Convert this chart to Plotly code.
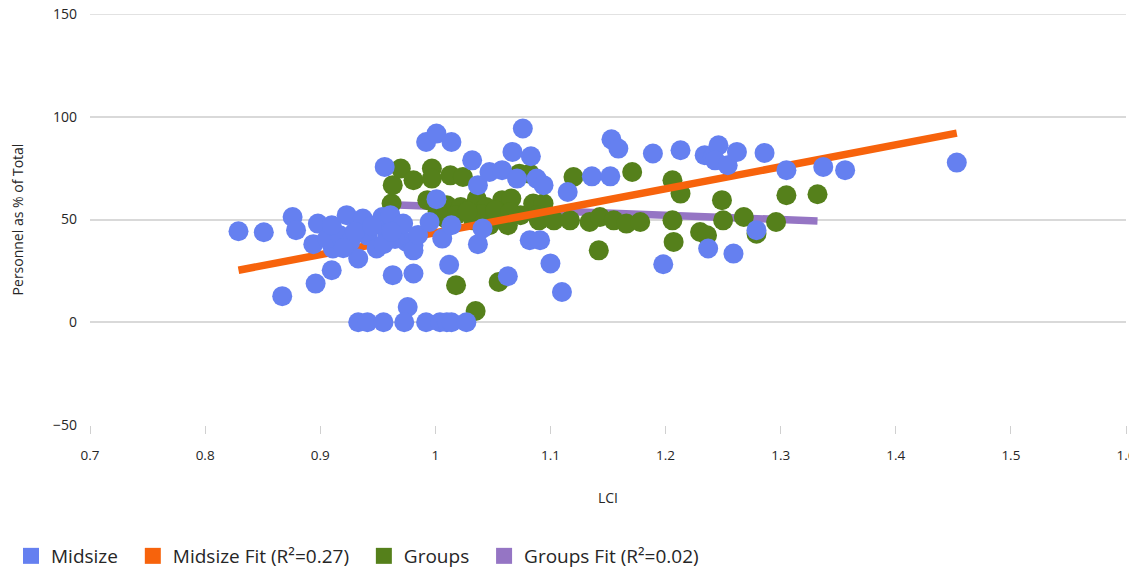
import plotly.graph_objects as go

# ---- Data ----
midsize_x = [0.829, 0.851, 0.867, 0.876, 0.879, 0.896, 0.894, 0.898, 0.910, 0.911,
             0.906, 0.917, 0.910, 0.923, 0.926, 0.933, 0.937, 0.941, 0.949, 0.954,
             0.958, 0.961, 0.969, 0.975, 0.981, 0.981, 0.930, 0.945, 0.965, 0.972,
             0.985, 0.920, 0.955, 0.962,
             0.956, 0.963, 0.981, 0.976,
             0.933, 0.941, 0.955, 0.973, 0.992, 1.004, 1.010, 1.014, 1.027,
             0.995, 1.001, 1.006, 1.012, 0.992, 1.001, 1.014, 1.014, 1.032,
             1.037, 1.037, 1.041, 1.047, 1.058, 1.063, 1.067, 1.071, 1.076, 1.083,
             1.088, 1.094, 1.082, 1.091, 1.100, 1.110, 1.115, 1.136, 1.152, 1.153,
             1.159, 1.189, 1.198, 1.213, 1.234, 1.237, 1.241, 1.246, 1.243, 1.254,
             1.262, 1.259, 1.279, 1.286, 1.305, 1.337, 1.356, 1.453]
midsize_y = [44.3, 43.8, 12.7, 51.2, 44.8, 18.8, 38.0, 48.0, 25.3, 35.9,
             40.7, 42.3, 47.2, 52.1, 39.1, 31.0, 50.5, 42.3, 35.9, 51.2,
             43.3, 52.1, 45.6, 39.1, 37.5, 35.0, 44.0, 47.0, 40.5, 48.0,
             42.5, 36.0, 38.0, 44.0,
             75.6, 22.9, 23.7, 7.4,
             0, 0, 0, 0, 0, 0, 0, 0, 0,
             48.8, 59.9, 40.7, 28.0, 87.7, 91.8, 87.7, 47.2, 78.8,
             66.7, 38.0, 45.6, 73.1, 74.0, 22.4, 82.9, 69.9, 94.3, 80.8,
             69.9, 66.7, 39.9, 39.9, 28.6, 14.7, 63.4, 71.0, 71.0, 89.0,
             84.5, 82.1, 28.2, 83.7, 81.3, 35.9, 80.3, 86.1, 78.8, 76.4,
             82.9, 33.4, 44.8, 82.4, 74.0, 75.6, 74.0, 77.7]

groups_x = [0.962, 0.963, 0.970, 0.981, 0.997, 0.997, 0.993, 1.013, 1.010, 1.022,
            1.024, 1.009, 1.018, 1.036, 1.044, 1.058, 1.066, 1.073, 1.082, 1.085,
            1.094, 1.033, 1.047, 1.063, 1.074, 1.088, 1.090, 1.103, 1.117, 1.120,
            1.134, 1.143, 1.155, 1.166, 1.178, 1.171, 1.142, 1.206, 1.213, 1.206,
            1.207, 1.230, 1.236, 1.249, 1.250, 1.268, 1.279, 1.296, 1.305, 1.332,
            1.018, 1.055, 1.035, 1.040, 1.052, 1.028, 1.065, 1.002]
groups_y = [57.8, 66.7, 74.8, 69.1, 74.8, 69.9, 59.4, 71.5, 56.9, 56.1,
            70.7, 50.5, 52.1, 59.9, 56.1, 59.4, 60.2, 72.3, 72.3, 57.8,
            57.8, 49.6, 47.2, 47.2, 52.1, 52.1, 49.6, 49.6, 49.6, 70.7,
            48.8, 51.2, 49.6, 48.0, 48.8, 73.1, 35.0, 69.1, 62.6, 49.6,
            39.1, 43.9, 42.3, 59.4, 49.6, 51.2, 43.1, 48.8, 61.8, 62.3,
            18.0, 19.6, 5.5, 52.5, 54.5, 54.0, 53.5, 54.0]

midsize_fit_x = [0.829, 1.453]
midsize_fit_y = [25.3, 92.0]
groups_fit_x = [0.962, 1.332]
groups_fit_y = [57.2, 49.3]

x_ticks = [0.7, 0.8, 0.9, 1.0, 1.1, 1.2, 1.3, 1.4, 1.5, 1.6]
x_tick_labels = ["0.7", "0.8", "0.9", "1", "1.1", "1.2", "1.3", "1.4", "1.5", "1.6"]
y_ticks = [-50, 0, 50, 100, 150]
y_tick_labels = ["\u221250", "0", "50", "100", "150"]
y_range = [-50, 150]

PAD = "\u00a0\u00a0"
names = ["Midsize" + PAD, "Midsize Fit (R\u00b2=0.27)" + PAD, "Groups" + PAD, "Groups Fit (R\u00b2=0.02)"]
colors = ["#6580f0", "#f7630c", "#55801b", "#9575c4"]

FONT = "Open Sans"
TXT = "#262626"
GRID = "#d9d9d9"

fig = go.Figure()

# drawing order: purple fit, green, orange fit, blue
fig.add_trace(go.Scatter(x=groups_fit_x, y=groups_fit_y, mode="lines",
                         line=dict(color=colors[3], width=7.5), showlegend=False, hoverinfo="skip"))
fig.add_trace(go.Scatter(x=groups_x, y=groups_y, mode="markers",
                         marker=dict(color=colors[2], size=20, line=dict(width=0)), showlegend=False))
fig.add_trace(go.Scatter(x=midsize_fit_x, y=midsize_fit_y, mode="lines",
                         line=dict(color=colors[1], width=7.5), showlegend=False, hoverinfo="skip"))
fig.add_trace(go.Scatter(x=midsize_x, y=midsize_y, mode="markers",
                         marker=dict(color=colors[0], size=20, line=dict(width=0)), showlegend=False))

# legend entries (square swatches)
for n, c in zip(names, colors):
    fig.add_trace(go.Scatter(x=[None], y=[None], mode="markers", name=n,
                             marker=dict(symbol="square", color=c, size=19, line=dict(width=0))))

# top gridline at the range maximum (plotly omits it at the edge)
fig.add_shape(type="line", xref="paper", x0=0, x1=1, yref="y", y0=y_range[1], y1=y_range[1],
              line=dict(color=GRID, width=1.5), layer="below")

# page body has an 8px margin, so the figure is offset by (8, 8) in the window
W, H = 1129, 560
fig.update_layout(
    width=W, height=H,
    margin=dict(l=82, r=11, t=6, b=143, autoexpand=False),
    paper_bgcolor="white", plot_bgcolor="white",
    font=dict(family=FONT, size=14, color=TXT),
    showlegend=True,
    legend=dict(orientation="h", x=3 / W, xanchor="left", xref="container",
                y=(H - 548) / H, yanchor="middle", yref="container",
                font=dict(size=19, color=TXT), itemsizing="trace",
                traceorder="normal", itemwidth=30, tracegroupgap=0),
    xaxis=dict(range=[0.7, 1.6], tickvals=x_ticks, ticktext=x_tick_labels,
               showgrid=False, zeroline=False, showline=False, automargin=False,
               ticks="outside", ticklen=8, tickcolor="#d0d0d0", tickwidth=1,
               ticklabelstandoff=10, ticklabeloverflow="allow",
               tickfont=dict(size=13.5),
               title=dict(text="LCI", standoff=29, font=dict(size=14, color=TXT))),
    yaxis=dict(range=y_range, tickvals=y_ticks, ticktext=y_tick_labels,
               showgrid=True, gridcolor=GRID, gridwidth=1.5, zeroline=False,
               showline=False, ticks="", ticklabelstandoff=12, automargin=False,
               ticklabeloverflow="allow",
               title=dict(text="Personnel as % of Total", standoff=26,
                          font=dict(size=14, color=TXT))),
)

fig.write_html("out.html")
